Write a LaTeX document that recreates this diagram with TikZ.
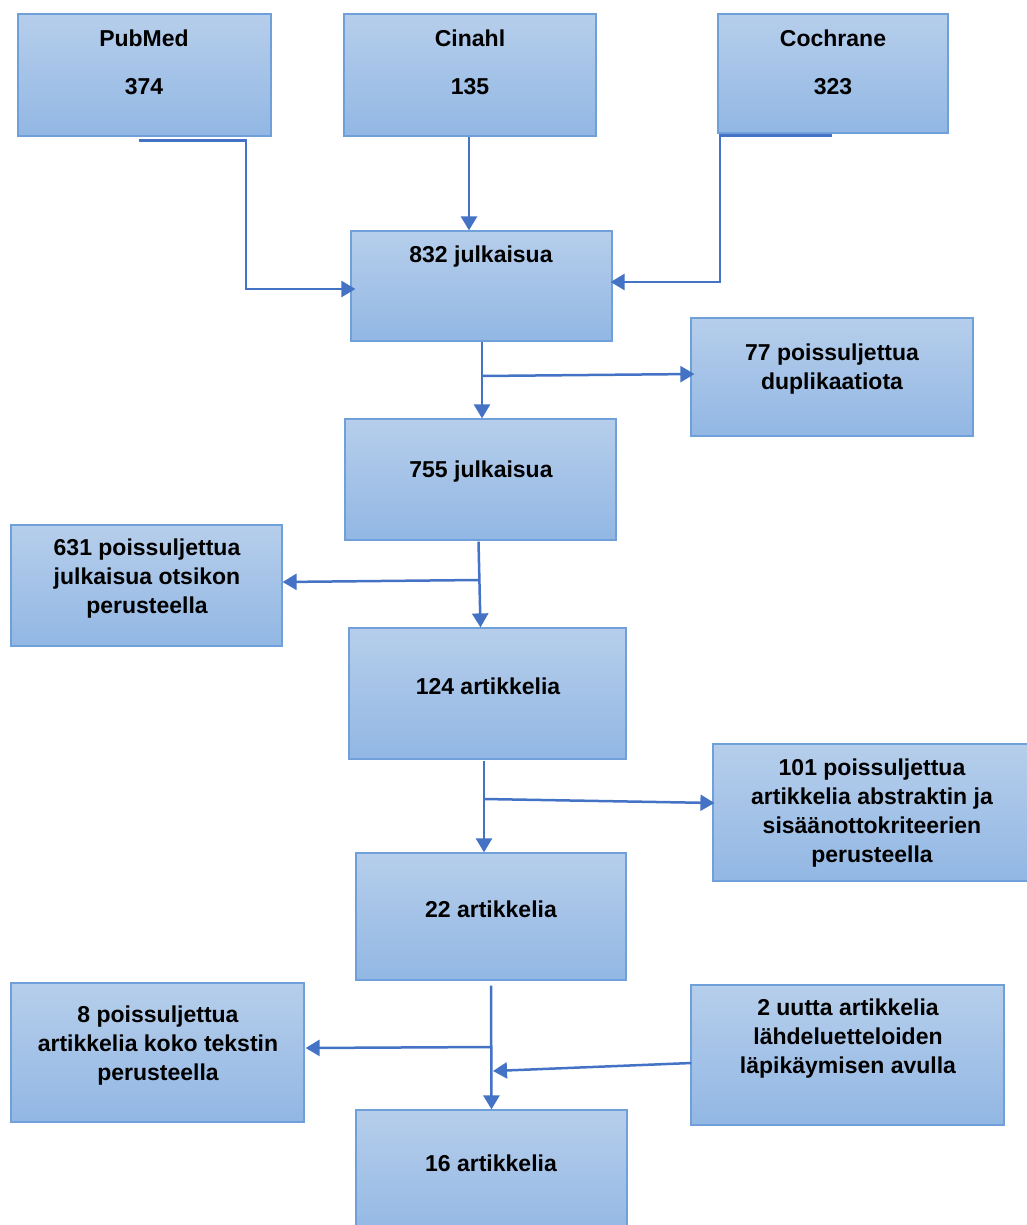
\documentclass[tikz,border=0pt]{standalone}
\usepackage{fontspec}
\setmainfont{Liberation Sans}
\usetikzlibrary{arrows.meta}
\definecolor{boxtop}{RGB}{182,206,235}
\definecolor{boxbot}{RGB}{146,183,228}
\definecolor{boxline}{RGB}{112,160,218}
\definecolor{flow}{RGB}{68,114,196}
\begin{document}
\begin{tikzpicture}[x=1pt, y=-1pt,
  box/.style = {draw=boxline, line width=1.2pt, top color=boxtop, bottom color=boxbot, inner sep=0pt},
  txt/.style = {font=\bfseries\fontsize{23}{29}\selectfont, align=center, inner sep=0pt},
  flowline/.style = {draw=flow, line width=2.5pt},
  flowarrow/.style = {flowline, -{Triangle[width=16pt,length=14pt]}}]
\useasboundingbox (0,0) rectangle (1026,1225);
\begin{scope}[every node/.style = {box}]
\node[minimum width=253, minimum height=122] (pub) at (144.5,75) {};
\node[minimum width=252, minimum height=122] (cin) at (470,75) {};
\node[minimum width=230, minimum height=119] (coch) at (833,73.5) {};
\node[minimum width=261, minimum height=110] (j832) at (481.5,286) {};
\node[minimum width=282, minimum height=118] (dup) at (832,377) {};
\node[minimum width=271, minimum height=121] (j755) at (480.5,479.5) {};
\node[minimum width=271, minimum height=121] (ex631) at (146.5,585.5) {};
\node[minimum width=277, minimum height=131] (a124) at (487.5,693.5) {};
\node[minimum width=315, minimum height=137] (ex101) at (870.5,812.5) {};
\node[minimum width=270, minimum height=127] (a22) at (491,916.5) {};
\node[minimum width=293, minimum height=139] (ex8) at (157.5,1052.5) {};
\node[minimum width=313, minimum height=140] (new2) at (847.5,1055) {};
\node[minimum width=271, minimum height=130] (a16) at (491.5,1175) {};
\end{scope}
\begin{scope}[every node/.style = {txt}]
\node (pub-t) at (144,62) {PubMed\\[19pt]374};
\node (cin-t) at (470,62) {Cinahl\\[19pt]135};
\node (coch-t) at (833,62) {Cochrane\\[19pt]323};
\node (j832-t) at (481,257) {832 julkaisua};
\node (dup-t) at (832,369) {77 poissuljettua\\duplikaatiota};
\node (j755-t) at (481,472) {755 julkaisua};
\node (ex631-t) at (147,579) {631 poissuljettua\\julkaisua otsikon\\perusteella};
\node (a124-t) at (488,686) {124 artikkelia};
\node (ex101-t) at (872,813) {101 poissuljettua\\artikkelia abstraktin ja\\sisäänottokriteerien\\perusteella};
\node (a22-t) at (491,909) {22 artikkelia};
\node (ex8-t) at (158,1046) {8 poissuljettua\\artikkelia koko tekstin\\perusteella};
\node (new2-t) at (848,1039) {2 uutta artikkelia\\lähdeluetteloiden\\läpikäymisen avulla};
\node (a16-t) at (491,1163) {16 artikkelia};
\end{scope}
\coordinate (pbend) at (246,289);
\coordinate (cbend) at (720,282);
\coordinate (jn1) at (482,376);
\coordinate (jn2) at (478.5,580);
\coordinate (jn3) at (484,799);
\coordinate (jn4) at (491.5,1047);
\coordinate (jn5) at (493,1071);
\draw[flowarrow] ([shift={(-6,4)}]pub.south) -| (pbend) -- ([shift={(5,3)}]j832.west);
\draw[flowarrow] ([xshift=-1pt]cin.south) -- ([xshift=-1pt]cin.south |- j832.north);
\draw[flowarrow] ([shift={(-1,2)}]coch.south) -| (cbend) -- ([shift={(-2,-4)}]j832.east);
\draw[flowarrow] ([xshift=0.5pt]j832.south) -- ([xshift=0.5pt]j832.south |- j755.north);
\draw[flowarrow] (jn1) -- ([shift={(4,-3)}]dup.west);
\draw[flowarrow] ([shift={(-2,1)}]j755.south) -- ([xshift=-7pt]a124.north);
\draw[flowarrow] (jn2) -- ([shift={(0,-3.5)}]ex631.east);
\draw[flowarrow] ([shift={(-3.5,1)}]a124.south) -- ([xshift=-3.5pt]a124.south |- a22.north);
\draw[flowarrow] (jn3) -- ([shift={(2,-9.5)}]ex101.west);
\draw[flowarrow] ([shift={(0,5)}]a22.south) -- (a16.north);
\draw[flowarrow] (jn4) -- ([shift={(1,-4.5)}]ex8.east);
\draw[flowarrow] ([shift={(1,8)}]new2.west) -- (jn5);
\end{tikzpicture}
\end{document}
